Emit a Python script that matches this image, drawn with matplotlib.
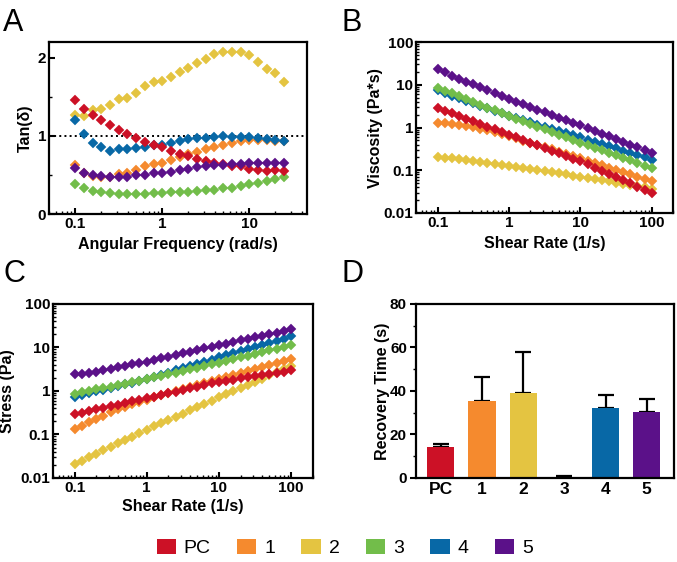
import numpy as np
import matplotlib
matplotlib.use('Agg')
import matplotlib.pyplot as plt
from matplotlib.patches import Patch
from matplotlib.ticker import LogLocator, FuncFormatter, MultipleLocator, NullFormatter

plt.rcParams['font.family'] = ['Liberation Sans', 'DejaVu Sans']

# groups and colours
groups = ['PC', '1', '2', '3', '4', '5']
colors = ['#CC1126', '#F58A2E', '#E4C441', '#72BD4A', '#0868A6', '#5B1189']
draw_order = [2, 1, 4, 3, 0, 5]

# A: tan(delta) vs angular frequency
freq = [0.1, 0.126, 0.158, 0.2, 0.251, 0.316, 0.398, 0.501, 0.631, 0.794,
        1, 1.26, 1.58, 2, 2.51, 3.16, 3.98, 5.01, 6.31, 7.94,
        10, 12.6, 15.8, 20, 25.1]
tan_pc = [1.46, 1.35, 1.27, 1.20, 1.14, 1.07, 1.03, 0.98, 0.92, 0.89,
          0.86, 0.81, 0.77, 0.74, 0.71, 0.68, 0.66, 0.64, 0.62, 0.61,
          0.58, 0.57, 0.55, 0.56, 0.55]
tan_1 = [0.63, 0.52, 0.49, 0.47, 0.48, 0.51, 0.53, 0.56, 0.61, 0.64,
         0.66, 0.69, 0.73, 0.77, 0.80, 0.83, 0.86, 0.89, 0.91, 0.93,
         0.95, 0.95, 0.95, 0.94, 0.93]
tan_2 = [1.27, 1.26, 1.33, 1.35, 1.39, 1.47, 1.49, 1.55, 1.64, 1.69,
         1.70, 1.75, 1.82, 1.87, 1.93, 1.99, 2.05, 2.08, 2.08, 2.07,
         2.04, 1.95, 1.86, 1.80, 1.69]
tan_3 = [0.38, 0.33, 0.30, 0.28, 0.27, 0.26, 0.26, 0.26, 0.26, 0.27,
         0.27, 0.28, 0.28, 0.28, 0.30, 0.31, 0.31, 0.33, 0.34, 0.36,
         0.38, 0.40, 0.43, 0.45, 0.47]
tan_4 = [1.20, 1.03, 0.91, 0.86, 0.81, 0.83, 0.83, 0.84, 0.86, 0.88,
         0.89, 0.91, 0.93, 0.96, 0.97, 0.98, 0.99, 1.00, 0.99, 0.99,
         0.99, 0.97, 0.96, 0.95, 0.93]
tan_5 = [0.59, 0.53, 0.50, 0.49, 0.47, 0.48, 0.48, 0.50, 0.50, 0.52,
         0.53, 0.54, 0.56, 0.58, 0.60, 0.61, 0.63, 0.63, 0.64, 0.64,
         0.65, 0.65, 0.65, 0.65, 0.65]
tan_all = [tan_pc, tan_1, tan_2, tan_3, tan_4, tan_5]

# B: viscosity vs shear rate (C is stress = viscosity * rate)
rate = [0.1, 0.126, 0.158, 0.2, 0.251, 0.316, 0.398, 0.501, 0.631, 0.794,
        1, 1.26, 1.58, 2, 2.51, 3.16, 3.98, 5.01, 6.31, 7.94,
        10, 12.6, 15.8, 20, 25.1, 31.6, 39.8, 50.1, 63.1, 79.4, 100]
visc_pc = [2.92, 2.51, 2.18, 1.88, 1.63, 1.41, 1.21, 1.05, 0.906, 0.782,
           0.676, 0.586, 0.508, 0.441, 0.382, 0.331, 0.287, 0.249, 0.216, 0.187,
           0.162, 0.137, 0.115, 0.0973, 0.0820, 0.0692, 0.0583, 0.0492, 0.0415, 0.0350,
           0.0295]
visc_1 = [1.31, 1.25, 1.20, 1.14, 1.08, 1.01, 0.944, 0.871, 0.794, 0.708,
          0.631, 0.560, 0.497, 0.441, 0.391, 0.347, 0.308, 0.273, 0.242, 0.215,
          0.191, 0.168, 0.149, 0.131, 0.116, 0.102, 0.0904, 0.0798, 0.0705, 0.0622,
          0.0550]
visc_2 = [0.209, 0.199, 0.190, 0.181, 0.172, 0.164, 0.156, 0.149, 0.142, 0.135,
          0.129, 0.121, 0.114, 0.108, 0.101, 0.0955, 0.0899, 0.0847, 0.0798, 0.0752,
          0.0708, 0.0664, 0.0622, 0.0583, 0.0547, 0.0513, 0.0481, 0.0451, 0.0423, 0.0396,
          0.0372]
visc_3 = [8.51, 7.31, 6.28, 5.40, 4.63, 3.98, 3.42, 2.94, 2.52, 2.17,
          1.86, 1.61, 1.40, 1.21, 1.05, 0.912, 0.791, 0.685, 0.594, 0.515,
          0.447, 0.389, 0.339, 0.295, 0.257, 0.224, 0.195, 0.170, 0.148, 0.129,
          0.112]
visc_4 = [7.41, 6.46, 5.62, 4.90, 4.27, 3.72, 3.24, 2.82, 2.45, 2.14,
          1.86, 1.66, 1.48, 1.32, 1.17, 1.05, 0.933, 0.832, 0.741, 0.661,
          0.589, 0.522, 0.463, 0.411, 0.365, 0.324, 0.287, 0.255, 0.226, 0.200,
          0.178]
visc_5 = [24.0, 19.5, 16.2, 13.8, 11.8, 10.2, 8.8, 7.6, 6.5, 5.6,
          4.7, 4.06, 3.52, 3.05, 2.64, 2.29, 1.99, 1.72, 1.49, 1.29,
          1.12, 0.97, 0.84, 0.72, 0.62, 0.54, 0.46, 0.40, 0.345, 0.30,
          0.26]
visc_all = [visc_pc, visc_1, visc_2, visc_3, visc_4, visc_5]

# D: recovery time
recovery = [14.0, 35.5, 39.0, 0.3, 32.3, 30.3]
recovery_err = [1.5, 11.0, 18.7, 0.4, 6.0, 5.9]

fig = plt.figure(figsize=(6.77, 5.62), dpi=100)
axA = fig.add_axes([0.0724, 0.619, 0.381, 0.306])
axB = fig.add_axes([0.6145, 0.621, 0.380, 0.304])
axC = fig.add_axes([0.078, 0.1495, 0.384, 0.310])
axD = fig.add_axes([0.6145, 0.1495, 0.381, 0.310])


def style(ax, direction='in'):
    for s in ax.spines.values():
        s.set_linewidth(1.6)
    ax.tick_params(which='major', direction=direction, length=4.5, width=1.5,
                   labelsize=11, pad=2)
    ax.tick_params(which='minor', direction=direction, length=2.5, width=1.0)
    for lab in ax.get_xticklabels() + ax.get_yticklabels():
        lab.set_fontweight('bold')


def log_axis(axis):
    axis.set_major_locator(LogLocator(base=10, numticks=10))
    axis.set_minor_locator(LogLocator(base=10, subs=np.arange(2, 10), numticks=20))
    axis.set_major_formatter(FuncFormatter(lambda v, p: '%g' % v))
    axis.set_minor_formatter(NullFormatter())


mk = dict(marker='D', ms=4.6, ls='none', mew=0.3)
lab = dict(fontsize=11.5, fontweight='bold')

# panel A
axA.axhline(1, color='black', ls=':', lw=1.4, zorder=1)
for i in draw_order:
    axA.plot(freq, tan_all[i], color=colors[i], mec=colors[i], zorder=3, **mk)
axA.set_xscale('log')
axA.set_xlim(0.05, 46)
axA.set_ylim(0, 2.2)
log_axis(axA.xaxis)
axA.yaxis.set_major_locator(MultipleLocator(1))
axA.yaxis.set_minor_locator(MultipleLocator(0.5))
axA.set_xlabel('Angular Frequency (rad/s)', **lab)
axA.set_ylabel('Tan(δ)', **lab)
axA.yaxis.set_label_coords(-0.062, 0.5)
axA.xaxis.set_label_coords(0.5, -0.135)
style(axA)

# panel B
for i in draw_order:
    axB.plot(rate, visc_all[i], color=colors[i], mec=colors[i], **mk)
axB.set_xscale('log')
axB.set_yscale('log')
axB.set_xlim(0.05, 200)
axB.set_ylim(0.01, 100)
log_axis(axB.xaxis)
log_axis(axB.yaxis)
axB.set_xlabel('Shear Rate (1/s)', **lab)
axB.set_ylabel('Viscosity (Pa*s)', **lab)
axB.yaxis.set_label_coords(-0.128, 0.5)
axB.xaxis.set_label_coords(0.5, -0.135)
style(axB)

# panel C
for i in draw_order:
    stress = np.array(visc_all[i]) * np.array(rate)
    axC.plot(rate, stress, color=colors[i], mec=colors[i], **mk)
axC.set_xscale('log')
axC.set_yscale('log')
axC.set_xlim(0.05, 200)
axC.set_ylim(0.01, 100)
log_axis(axC.xaxis)
log_axis(axC.yaxis)
axC.set_xlabel('Shear Rate (1/s)', **lab)
axC.set_ylabel('Stress (Pa)', **lab)
axC.yaxis.set_label_coords(-0.146, 0.5)
axC.xaxis.set_label_coords(0.5, -0.12)
style(axC)

# panel D
pos = np.arange(len(groups))
axD.bar(pos, recovery, width=0.66, color=colors, zorder=2)
axD.errorbar(pos, recovery, yerr=[np.zeros(len(groups)), recovery_err],
             fmt='none', ecolor='black', elinewidth=1.6, capsize=6,
             capthick=1.6, zorder=1)
axD.set_xlim(-0.6, 5.66)
axD.set_ylim(0, 80)
axD.set_xticks(pos)
axD.set_xticklabels(groups)
axD.yaxis.set_major_locator(MultipleLocator(20))
axD.yaxis.set_minor_locator(MultipleLocator(10))
axD.set_ylabel('Recovery Time (s)', **lab)
axD.yaxis.set_label_coords(-0.10, 0.5)
style(axD, direction='out')
axD.tick_params(axis='x', which='both', length=0, labelsize=12.5, pad=3)

# panel letters
for letter, x, y in [('A', 0.005, 0.985), ('B', 0.505, 0.985),
                     ('C', 0.005, 0.54), ('D', 0.505, 0.54)]:
    fig.text(x, y, letter, fontsize=22, va='top', ha='left')

handles = [Patch(facecolor=c, edgecolor='none') for c in colors]
fig.legend(handles, groups, loc='center', bbox_to_anchor=(0.509, 0.025), ncol=6,
           frameon=False, fontsize=14, handlelength=1.0, handleheight=0.85,
           handletextpad=0.4, columnspacing=1.35)

fig.savefig('out.png', dpi=100)
